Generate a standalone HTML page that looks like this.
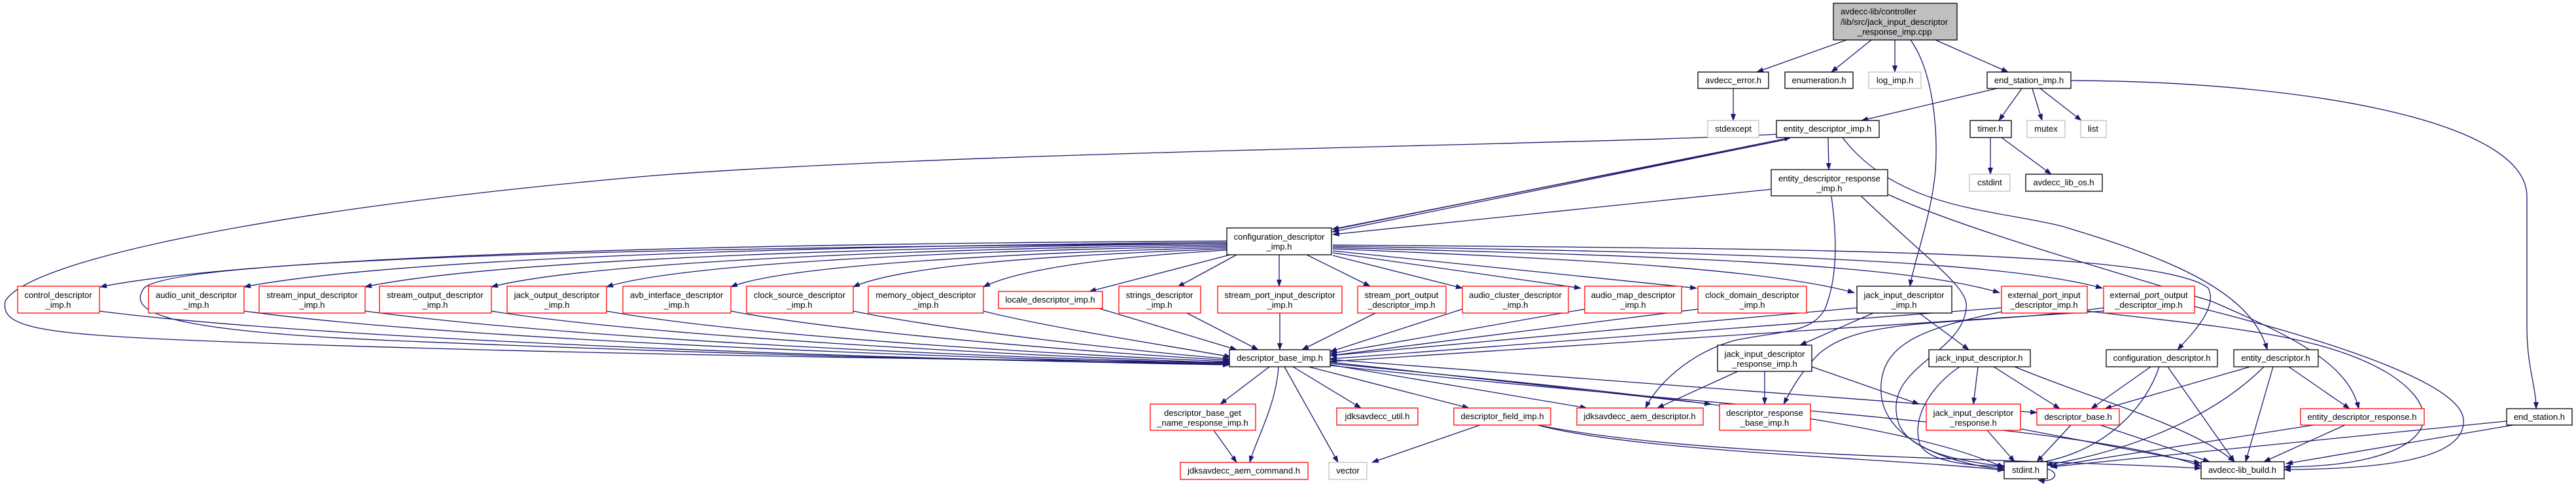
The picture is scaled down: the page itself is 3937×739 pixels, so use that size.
<!DOCTYPE html>
<html><head><meta charset="utf-8"><style>
html,body{margin:0;padding:0;background:#fff;width:3937px;height:739px;overflow:hidden}
svg{display:block}
text{font-family:"Liberation Sans",Arial,sans-serif;font-size:13px;fill:#000;text-anchor:middle}
.k{fill:#fff;stroke:#000;stroke-width:1.3}
.r{fill:#fff;stroke:#ff0000;stroke-width:1.3}
.g{fill:#fff;stroke:#bfbfbf;stroke-width:1.3}
.e{fill:none;stroke:#191970;stroke-width:1.3;marker-end:url(#a)}
</style></head><body>
<svg width="3937" height="739" viewBox="0 0 3937 739" xmlns="http://www.w3.org/2000/svg">
<defs><marker id="a" markerUnits="userSpaceOnUse" markerWidth="11" markerHeight="8" refX="10" refY="4" orient="auto"><path d="M0,0 L11,4 L0,8 z" fill="#191970"/></marker></defs>
<g>
<!-- root edges -->
<path class="e" d="M2822,61 L2685,110"/>
<path class="e" d="M2860,61 L2799,110"/>
<path class="e" d="M2896,61 L2896,110"/>
<path class="e" d="M2958,61 L3069,110"/>
<path class="e" d="M2920,61 C2955,110 2962,200 2958,260 C2952,330 2925,400 2919,437"/>
<path class="e" d="M3052,135 L2845,184"/>
<path class="e" d="M3090,135 L3055,184"/>
<path class="e" d="M3106,135 L3121,184"/>
<path class="e" d="M3118,135 L3181,184"/>
<path class="e" d="M3165,123 C3500,124 3862,180 3862,300 L3862,500 C3862,560 3876,590 3876,624"/>
<path class="e" d="M3042,210 L3042,266"/>
<path class="e" d="M3059,210 L3135,266"/>
<path class="e" d="M2649,135 L2649,184"/>
<path class="e" d="M2794,210 L2795,259"/>
<path class="e" d="M2040,350 L2737,210"/>
<path class="e" d="M2730,213 L2036,350"/>
<path class="e" d="M2725,214 L2036,354"/>
<path class="e" d="M2816,210 C2900,320 3050,320 3150,345 C3300,390 3440,440 3465,534"/>
<path class="e" d="M2715,205 C2400,222 1500,230 1000,268 C400,320 40,400 8,460 C0,500 60,510 300,520 C800,540 1500,550 1879,553"/>
<path class="e" d="M2707,289 L2037,358"/>
<path class="e" d="M2799,300 C2810,380 2805,430 2790,470 C2770,510 2720,505 2650,520 C2580,540 2530,590 2515,623"/>
<path class="e" d="M2845,300 C2950,400 3010,440 3005,470 C3000,540 2880,560 2900,640 C2910,690 3000,705 3063,712"/>
<path class="e" d="M2886,297 C3000,350 3250,420 3380,460 C3520,520 3590,560 3605,624"/>
<!-- jack_input_descriptor_imp -->
<path class="e" d="M2933,478 L3009,534"/>
<path class="e" d="M2863,478 L2751,527"/>
<path class="e" d="M2838,470 L2033,543"/>
<path class="e" d="M2656,567 L2533,623"/>
<path class="e" d="M2697,567 L2697,617"/>
<path class="e" d="M2769,560 L2933,617"/>
<!-- jack_input_descriptor.h -->
<path class="e" d="M3023,560 L3016,617"/>
<path class="e" d="M3047,560 L3148,624"/>
<path class="e" d="M3079,560 C3200,610 3350,650 3415,705"/>
<path class="e" d="M2995,560 C2950,590 2920,640 2935,680 C2950,705 3010,712 3065,712"/>
<!-- configuration_descriptor.h -->
<path class="e" d="M3287,560 L3196,624"/>
<path class="e" d="M3300,560 C3280,620 3220,690 3113,707"/>
<path class="e" d="M3313,560 L3415,705"/>
<!-- entity_descriptor.h -->
<path class="e" d="M3439,560 L3217,624"/>
<path class="e" d="M3460,560 C3380,640 3250,690 3127,710"/>
<path class="e" d="M3474,560 L3432,705"/>
<path class="e" d="M3498,560 L3591,624"/>
<!-- lower -->
<path class="e" d="M3037,657 L3079,705"/>
<path class="e" d="M3089,655 L3363,707"/>
<path class="e" d="M3165,649 L3113,705"/>
<path class="e" d="M3210,649 L3377,705"/>
<path class="e" d="M3536,649 L3134,712"/>
<path class="e" d="M3584,649 L3460,705"/>
<path class="e" d="M3831,643 L3134,713"/>
<path class="e" d="M3841,649 L3494,708"/>
<path class="e" d="M3129,716 C3150,722 3140,738 3115,733"/>
<!-- external ports -->
<path class="e" d="M3059,470 L2033,548"/>
<path class="e" d="M3059,476 C2950,500 2870,520 2875,600 C2880,680 3000,712 3063,716"/>
<path class="e" d="M3190,475 C3400,500 3550,510 3650,570 C3760,640 3700,712 3491,713"/>
<path class="e" d="M3215,475 L2033,552"/>
<path class="e" d="M3354,468 C3600,530 3760,590 3765,640 C3770,700 3650,716 3491,717"/>
<path class="e" d="M3215,470 C3000,500 2850,480 2780,540 C2750,570 2735,600 2726,617"/>
<!-- descriptor_base_imp -->
<path class="e" d="M1940,560 L1865,617"/>
<path class="e" d="M1954,560 C1950,620 1920,670 1910,706"/>
<path class="e" d="M1963,560 L2045,706"/>
<path class="e" d="M1976,560 L2080,623"/>
<path class="e" d="M2000,560 L2245,623"/>
<path class="e" d="M2033,557 L2425,623"/>
<path class="e" d="M2033,553 L2615,617"/>
<path class="e" d="M2033,549 L3113,630"/>
<path class="e" d="M2033,555 C2500,600 2900,640 3063,714"/>
<path class="e" d="M2033,558 C2600,620 3200,650 3364,712"/>
<path class="e" d="M1855,657 L1890,706"/>
<path class="e" d="M2262,649 L2097,706"/>
<path class="e" d="M2350,649 C2500,690 2900,700 3063,718"/>
<path class="e" d="M2350,649 C2600,700 3100,700 3364,715"/>
<!-- configuration_descriptor_imp to row -->
<path class="e" d="M1875,368 C1100,372 400,390 153,438"/>
<path class="e" d="M1875,370 C1200,376 600,395 373,438"/>
<path class="e" d="M1875,372 C1300,378 750,398 558,438"/>
<path class="e" d="M1875,374 C1400,380 900,400 751,438"/>
<path class="e" d="M1875,376 C1500,382 1050,400 927,438"/>
<path class="e" d="M1875,378 C1550,386 1200,405 1117,438"/>
<path class="e" d="M1875,380 C1600,390 1380,405 1304,438"/>
<path class="e" d="M1875,382 C1700,392 1560,410 1503,438"/>
<path class="e" d="M1880,389 L1665,445"/>
<path class="e" d="M1890,389 L1800,438"/>
<path class="e" d="M1955,389 L1955,437"/>
<path class="e" d="M1997,389 L2094,437"/>
<path class="e" d="M2037,390 L2235,440"/>
<path class="e" d="M2037,386 L2416,440"/>
<path class="e" d="M2037,383 L2593,440"/>
<path class="e" d="M2037,380 C2400,395 2700,410 2834,447"/>
<path class="e" d="M2037,378 C2500,390 2900,400 3056,447"/>
<path class="e" d="M2037,376 C2600,385 3050,395 3213,440"/>
<path class="e" d="M2037,374 C2700,380 3300,380 3375,440 C3390,470 3350,510 3328,534"/>
<path class="e" d="M1875,372 C900,378 260,398 220,440 C195,475 240,505 600,520 C1200,545 1600,552 1879,556"/>
<!-- row to descriptor_base_imp -->
<path class="e" d="M152,475 C500,520 1400,550 1879,557"/>
<path class="e" d="M373,475 C700,520 1500,548 1879,556"/>
<path class="e" d="M558,475 C900,520 1500,545 1879,555"/>
<path class="e" d="M751,475 C1000,515 1600,545 1879,554"/>
<path class="e" d="M927,475 C1150,515 1650,543 1879,552"/>
<path class="e" d="M1117,475 C1300,510 1700,540 1879,550"/>
<path class="e" d="M1304,475 C1450,505 1750,538 1879,548"/>
<path class="e" d="M1503,475 C1600,500 1800,530 1881,545"/>
<path class="e" d="M1680,471 L1890,534"/>
<path class="e" d="M1814,478 L1923,534"/>
<path class="e" d="M1956,478 L1956,534"/>
<path class="e" d="M2102,478 L1990,534"/>
<path class="e" d="M2235,472 L2033,537"/>
<path class="e" d="M2422,472 L2033,540"/>
<path class="e" d="M2595,472 L2033,543"/>
</g>
<g>
<rect x="2802" y="5" width="189" height="56" fill="#bfbfbf" stroke="#000" stroke-width="1.3"/>
<text x="2813" y="22" style="text-anchor:start">avdecc-lib/controller</text>
<text x="2813" y="38" style="text-anchor:start">/lib/src/jack_input_descriptor</text>
<text x="2839" y="53" style="text-anchor:start">_response_imp.cpp</text>

<rect class="k" x="2595" y="110" width="108" height="25"/><text x="2649" y="127">avdecc_error.h</text>
<rect class="k" x="2728" y="110" width="104" height="25"/><text x="2780" y="127">enumeration.h</text>
<rect class="g" x="2856" y="110" width="80" height="25"/><text x="2896" y="127">log_imp.h</text>
<rect class="k" x="3037" y="110" width="128" height="25"/><text x="3101" y="127">end_station_imp.h</text>
<rect class="g" x="2610" y="184" width="78" height="26"/><text x="2649" y="201">stdexcept</text>
<rect class="k" x="2715" y="184" width="157" height="26"/><text x="2793" y="201">entity_descriptor_imp.h</text>
<rect class="k" x="3011" y="184" width="63" height="26"/><text x="3042" y="201">timer.h</text>
<rect class="g" x="3098" y="184" width="58" height="26"/><text x="3127" y="201">mutex</text>
<rect class="g" x="3180" y="184" width="39" height="26"/><text x="3199" y="201">list</text>
<rect class="k" x="2707" y="259" width="178" height="40"/><text x="2796" y="277">entity_descriptor_response</text><text x="2796" y="292">_imp.h</text>
<rect class="g" x="3010" y="266" width="62" height="26"/><text x="3041" y="283">cstdint</text>
<rect class="k" x="3096" y="266" width="117" height="26"/><text x="3154" y="283">avdecc_lib_os.h</text>
<rect class="k" x="1875" y="348" width="160" height="41"/><text x="1955" y="366">configuration_descriptor</text><text x="1955" y="381">_imp.h</text>

<rect class="r" x="27" y="437" width="125" height="41"/><text x="89" y="455">control_descriptor</text><text x="89" y="470">_imp.h</text>
<rect class="r" x="227" y="437" width="146" height="41"/><text x="300" y="455">audio_unit_descriptor</text><text x="300" y="470">_imp.h</text>
<rect class="r" x="396" y="437" width="162" height="41"/><text x="477" y="455">stream_input_descriptor</text><text x="477" y="470">_imp.h</text>
<rect class="r" x="580" y="437" width="171" height="41"/><text x="665" y="455">stream_output_descriptor</text><text x="665" y="470">_imp.h</text>
<rect class="r" x="775" y="437" width="152" height="41"/><text x="851" y="455">jack_output_descriptor</text><text x="851" y="470">_imp.h</text>
<rect class="r" x="952" y="437" width="165" height="41"/><text x="1034" y="455">avb_interface_descriptor</text><text x="1034" y="470">_imp.h</text>
<rect class="r" x="1141" y="437" width="163" height="41"/><text x="1222" y="455">clock_source_descriptor</text><text x="1222" y="470">_imp.h</text>
<rect class="r" x="1327" y="437" width="176" height="41"/><text x="1415" y="455">memory_object_descriptor</text><text x="1415" y="470">_imp.h</text>
<rect class="r" x="1526" y="445" width="159" height="26"/><text x="1605" y="462">locale_descriptor_imp.h</text>
<rect class="r" x="1710" y="437" width="125" height="41"/><text x="1772" y="455">strings_descriptor</text><text x="1772" y="470">_imp.h</text>
<rect class="r" x="1861" y="437" width="190" height="41"/><text x="1956" y="455">stream_port_input_descriptor</text><text x="1956" y="470">_imp.h</text>
<rect class="r" x="2075" y="437" width="135" height="41"/><text x="2142" y="455">stream_port_output</text><text x="2142" y="470">_descriptor_imp.h</text>
<rect class="r" x="2235" y="437" width="162" height="41"/><text x="2316" y="455">audio_cluster_descriptor</text><text x="2316" y="470">_imp.h</text>
<rect class="r" x="2422" y="437" width="148" height="41"/><text x="2496" y="455">audio_map_descriptor</text><text x="2496" y="470">_imp.h</text>
<rect class="r" x="2595" y="437" width="166" height="41"/><text x="2678" y="455">clock_domain_descriptor</text><text x="2678" y="470">_imp.h</text>
<rect class="k" x="2838" y="437" width="145" height="41"/><text x="2910" y="455">jack_input_descriptor</text><text x="2910" y="470">_imp.h</text>
<rect class="r" x="3059" y="437" width="131" height="41"/><text x="3124" y="455">external_port_input</text><text x="3124" y="470">_descriptor_imp.h</text>
<rect class="r" x="3215" y="437" width="139" height="41"/><text x="3284" y="455">external_port_output</text><text x="3284" y="470">_descriptor_imp.h</text>

<rect class="k" x="2625" y="527" width="144" height="40"/><text x="2697" y="545">jack_input_descriptor</text><text x="2697" y="560">_response_imp.h</text>
<rect class="k" x="1879" y="534" width="154" height="26"/><text x="1956" y="551">descriptor_base_imp.h</text>
<rect class="k" x="2948" y="534" width="155" height="26"/><text x="3025" y="551">jack_input_descriptor.h</text>
<rect class="k" x="3219" y="534" width="170" height="26"/><text x="3304" y="551">configuration_descriptor.h</text>
<rect class="k" x="3414" y="534" width="129" height="26"/><text x="3478" y="551">entity_descriptor.h</text>

<rect class="r" x="1758" y="617" width="161" height="40"/><text x="1838" y="635">descriptor_base_get</text><text x="1838" y="650">_name_response_imp.h</text>
<rect class="r" x="2628" y="617" width="139" height="40"/><text x="2697" y="635">descriptor_response</text><text x="2697" y="650">_base_imp.h</text>
<rect class="r" x="2944" y="617" width="144" height="40"/><text x="3016" y="635">jack_input_descriptor</text><text x="3016" y="650">_response.h</text>
<rect class="r" x="2043" y="623" width="124" height="26"/><text x="2105" y="640">jdksavdecc_util.h</text>
<rect class="r" x="2222" y="623" width="148" height="26"/><text x="2296" y="640">descriptor_field_imp.h</text>
<rect class="r" x="2410" y="623" width="193" height="26"/><text x="2506" y="640">jdksavdecc_aem_descriptor.h</text>
<rect class="r" x="3113" y="624" width="126" height="25"/><text x="3176" y="641">descriptor_base.h</text>
<rect class="r" x="3516" y="624" width="189" height="25"/><text x="3610" y="641">entity_descriptor_response.h</text>
<rect class="k" x="3831" y="624" width="100" height="25"/><text x="3881" y="641">end_station.h</text>

<rect class="r" x="1804" y="706" width="195" height="26"/><text x="1901" y="723">jdksavdecc_aem_command.h</text>
<rect class="g" x="2031" y="706" width="58" height="26"/><text x="2060" y="723">vector</text>
<rect class="k" x="3063" y="705" width="66" height="26"/><text x="3096" y="722">stdint.h</text>
<rect class="k" x="3364" y="705" width="127" height="26"/><text x="3427" y="722">avdecc-lib_build.h</text>
</g>
</svg>
</body></html>
